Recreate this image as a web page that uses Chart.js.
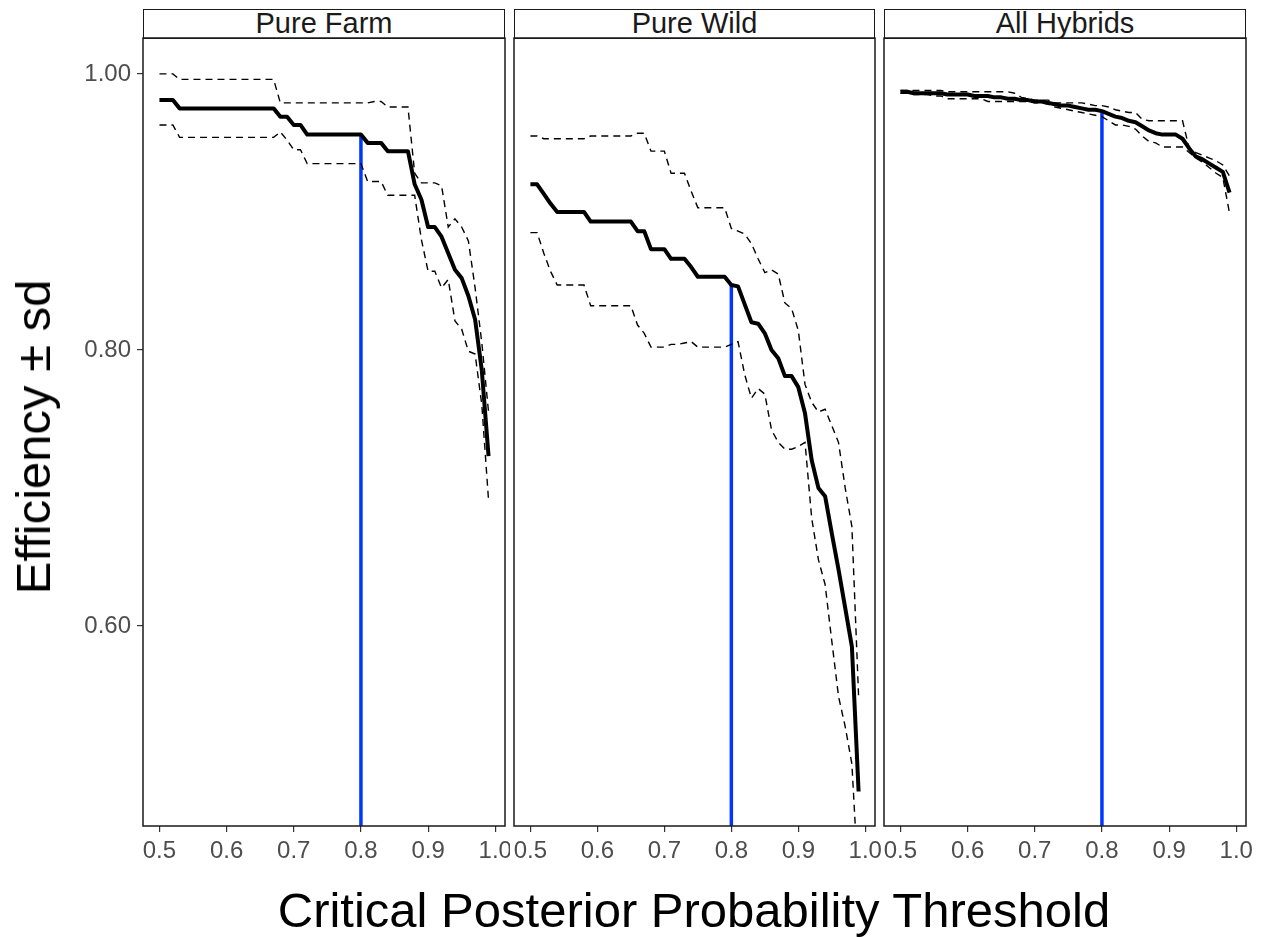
<!DOCTYPE html>
<html>
<head>
<meta charset="utf-8">
<script src="https://cdn.jsdelivr.net/npm/chart.js@4.4.1/dist/chart.umd.min.js"></script>
<style>
  body { margin: 0; background: #fff; font-family: "Liberation Sans", Arial, sans-serif; }
  #wrap { position: relative; width: 1265px; height: 937px; overflow: hidden; }
  canvas { position: absolute; }
  .strip { position: absolute; top: 9px; height: 30px; box-sizing: border-box; border: 1.5px solid #1a1a1a;
           text-align: center; font-size: 29px; line-height: 27px; color: #1a1a1a; background: #fff; }
  .title { position: absolute; white-space: nowrap; color: #000; font-size: 49px; }
</style>
</head>
<body>
<div id="wrap">
  <div class="strip" style="left:143px;width:362px">Pure Farm</div>
  <div class="strip" style="left:514px;width:361px">Pure Wild</div>
  <div class="strip" style="left:884px;width:362px">All Hybrids</div>
  <canvas id="farm" width="510" height="850" style="left:0;top:30px"></canvas>
  <canvas id="wild" width="385" height="850" style="left:509px;top:30px"></canvas>
  <canvas id="hybrid" width="386" height="850" style="left:879px;top:30px"></canvas>
  <div class="title" style="left:33px;top:437px;transform:translate(-50%,-50%) rotate(-90deg)">Efficiency ± sd</div>
  <div class="title" style="left:694px;top:910px;transform:translate(-50%,-50%)">Critical Posterior Probability Threshold</div>
</div>
<script>
// posterior probability thresholds (x)
var thresholds = [0.50, 0.51, 0.52, 0.53, 0.54, 0.55, 0.56, 0.57, 0.58, 0.59,
                  0.60, 0.61, 0.62, 0.63, 0.64, 0.65, 0.66, 0.67, 0.68, 0.69,
                  0.70, 0.71, 0.72, 0.73, 0.74, 0.75, 0.76, 0.77, 0.78, 0.79,
                  0.80, 0.81, 0.82, 0.83, 0.84, 0.85, 0.86, 0.87, 0.88, 0.89,
                  0.90, 0.91, 0.92, 0.93, 0.94, 0.95, 0.96, 0.97, 0.98, 0.99];
var cutoff = 0.80;
var xTicks = [0.5, 0.6, 0.7, 0.8, 0.9, 1.0];
var yTicks = [0.6, 0.8, 1.0];

// Pure Farm
var farmMean  = [0.981, 0.981, 0.981, 0.975, 0.975, 0.975, 0.975, 0.975, 0.975, 0.975,
                 0.975, 0.975, 0.975, 0.975, 0.975, 0.975, 0.975, 0.975, 0.969, 0.969,
                 0.963, 0.963, 0.956, 0.956, 0.956, 0.956, 0.956, 0.956, 0.956, 0.956,
                 0.956, 0.950, 0.950, 0.950, 0.944, 0.944, 0.944, 0.944, 0.920, 0.909,
                 0.889, 0.889, 0.882, 0.870, 0.858, 0.852, 0.839, 0.822, 0.785, 0.723];
var farmUpper = [1.000, 1.000, 1.000, 0.996, 0.996, 0.996, 0.996, 0.996, 0.996, 0.996,
                 0.996, 0.996, 0.996, 0.996, 0.996, 0.996, 0.996, 0.996, 0.979, 0.979,
                 0.979, 0.979, 0.979, 0.979, 0.979, 0.979, 0.979, 0.979, 0.979, 0.979,
                 0.979, 0.979, 0.980, 0.980, 0.976, 0.976, 0.976, 0.976, 0.928, 0.921,
                 0.921, 0.921, 0.919, 0.889, 0.895, 0.889, 0.879, 0.845, 0.805, 0.755];
var farmLower = [0.963, 0.963, 0.963, 0.954, 0.954, 0.954, 0.954, 0.954, 0.954, 0.954,
                 0.954, 0.954, 0.954, 0.954, 0.954, 0.954, 0.954, 0.954, 0.958, 0.952,
                 0.945, 0.945, 0.935, 0.935, 0.935, 0.935, 0.935, 0.935, 0.935, 0.935,
                 0.935, 0.922, 0.922, 0.922, 0.912, 0.912, 0.912, 0.912, 0.912, 0.880,
                 0.857, 0.857, 0.845, 0.851, 0.821, 0.815, 0.799, 0.797, 0.760, 0.691];

// Pure Wild
var wildMean  = [0.920, 0.920, 0.913, 0.906, 0.900, 0.900, 0.900, 0.900, 0.900, 0.893,
                 0.893, 0.893, 0.893, 0.893, 0.893, 0.893, 0.886, 0.886, 0.873, 0.873,
                 0.873, 0.866, 0.866, 0.866, 0.860, 0.853, 0.853, 0.853, 0.853, 0.853,
                 0.847, 0.846, 0.833, 0.820, 0.819, 0.812, 0.800, 0.794, 0.781, 0.781,
                 0.773, 0.754, 0.720, 0.700, 0.694, 0.667, 0.641, 0.613, 0.585, 0.480];
var wildUpper = [0.955, 0.955, 0.953, 0.953, 0.953, 0.953, 0.953, 0.953, 0.953, 0.955,
                 0.955, 0.955, 0.955, 0.955, 0.955, 0.955, 0.957, 0.957, 0.944, 0.944,
                 0.944, 0.928, 0.928, 0.928, 0.915, 0.903, 0.903, 0.903, 0.903, 0.903,
                 0.888, 0.886, 0.884, 0.877, 0.866, 0.856, 0.858, 0.855, 0.834, 0.830,
                 0.814, 0.775, 0.762, 0.755, 0.757, 0.745, 0.733, 0.700, 0.672, 0.549];
var wildLower = [0.885, 0.885, 0.870, 0.857, 0.847, 0.847, 0.847, 0.847, 0.847, 0.832,
                 0.832, 0.832, 0.832, 0.832, 0.832, 0.832, 0.818, 0.812, 0.802, 0.802,
                 0.802, 0.804, 0.804, 0.805, 0.806, 0.802, 0.802, 0.802, 0.802, 0.802,
                 0.804, 0.806, 0.782, 0.765, 0.772, 0.768, 0.742, 0.733, 0.728, 0.728,
                 0.730, 0.733, 0.678, 0.648, 0.630, 0.589, 0.549, 0.527, 0.500, 0.411];

// All Hybrids
var hybMean  = [0.987, 0.987, 0.986, 0.986, 0.986, 0.986, 0.986, 0.985, 0.985, 0.985,
                0.985, 0.984, 0.984, 0.984, 0.983, 0.983, 0.982, 0.982, 0.981, 0.981,
                0.980, 0.980, 0.979, 0.978, 0.977, 0.977, 0.976, 0.975, 0.974, 0.974,
                0.973, 0.971, 0.969, 0.968, 0.966, 0.965, 0.962, 0.959, 0.957, 0.956,
                0.956, 0.956, 0.953, 0.946, 0.940, 0.938, 0.935, 0.932, 0.929, 0.914];
var hybUpper = [0.988, 0.988, 0.988, 0.988, 0.988, 0.988, 0.988, 0.987, 0.987, 0.987,
                0.987, 0.987, 0.987, 0.987, 0.987, 0.987, 0.987, 0.986, 0.983, 0.982,
                0.981, 0.981, 0.981, 0.979, 0.979, 0.979, 0.979, 0.979, 0.978, 0.977,
                0.977, 0.976, 0.974, 0.973, 0.972, 0.972, 0.967, 0.966, 0.966, 0.966,
                0.966, 0.966, 0.966, 0.946, 0.943, 0.941, 0.939, 0.937, 0.934, 0.926];
var hybLower = [0.986, 0.986, 0.985, 0.985, 0.985, 0.984, 0.984, 0.982, 0.982, 0.982,
                0.982, 0.982, 0.982, 0.980, 0.980, 0.980, 0.980, 0.980, 0.980, 0.980,
                0.979, 0.979, 0.978, 0.976, 0.975, 0.974, 0.973, 0.972, 0.971, 0.970,
                0.969, 0.966, 0.963, 0.963, 0.962, 0.960, 0.955, 0.951, 0.950, 0.947,
                0.947, 0.947, 0.947, 0.943, 0.939, 0.936, 0.932, 0.928, 0.925, 0.899];

Chart.defaults.font.family = '"Liberation Sans", Arial, sans-serif';

// box round each panel
var panelBorder = {
    id: "panelBorder",
    afterDraw: function(chart) {
        var a = chart.chartArea, ctx = chart.ctx;
        ctx.save();
        ctx.strokeStyle = "#1a1a1a";
        ctx.lineWidth = 1.5;
        ctx.strokeRect(a.left, a.top, a.right - a.left, a.bottom - a.top);
        ctx.restore();
    }
};

function points(values) {
    return thresholds.map(function(t, i) { return {x: t, y: values[i]}; });
}

// padRight keeps room for the last tick label so it is not cut off
function FacetPanel(id, mean, upper, lower, showY, padRight) {
    var c = thresholds.indexOf(cutoff);
    var dashed = {borderColor: "#000", borderWidth: 1.4, borderDash: [7, 5], pointRadius: 0, tension: 0};
    new Chart(document.getElementById(id), {
        type: "line",
        data: {
            datasets: [
                {data: points(mean), borderColor: "#000", borderWidth: 4, pointRadius: 0, tension: 0,
                 borderJoinStyle: "round"},
                Object.assign({data: points(upper)}, dashed),
                Object.assign({data: points(lower)}, dashed),
                {data: [{x: cutoff, y: 0}, {x: cutoff, y: mean[c]}],
                 borderColor: "#0038ff", borderWidth: 3.5, pointRadius: 0}
            ]
        },
        options: {
            responsive: false,
            animation: false,
            events: [],
            layout: {padding: {top: 8, bottom: 0, left: showY ? 0 : 5, right: padRight}},
            plugins: {legend: {display: false}, tooltip: {enabled: false}},
            scales: {
                x: {
                    type: "linear",
                    min: 0.4755,
                    max: 1.0145,
                    afterBuildTicks: function(s) { s.ticks = xTicks.map(function(v) { return {value: v}; }); },
                    afterFit: function(s) { s.height = 54; s.paddingLeft = 0; s.paddingRight = 0; },
                    border: {display: false},
                    grid: {drawOnChartArea: false, drawTicks: true, tickLength: 6, color: "#333", lineWidth: 1.2},
                    ticks: {
                        color: "#4d4d4d",
                        font: {size: 24},
                        padding: 5,
                        maxRotation: 0,
                        autoSkip: false,
                        callback: function(v) { return v.toFixed(1); }
                    }
                },
                y: {
                    display: showY,
                    min: 0.455,
                    max: 1.026,
                    afterBuildTicks: function(s) { s.ticks = yTicks.map(function(v) { return {value: v}; }); },
                    afterFit: function(s) { s.width = showY ? 143 : 0; s.paddingTop = 0; s.paddingBottom = 0; },
                    border: {display: false},
                    grid: {drawOnChartArea: false, drawTicks: true, tickLength: 6, color: "#333", lineWidth: 1.2},
                    ticks: {
                        color: "#4d4d4d",
                        font: {size: 24},
                        padding: 6,
                        callback: function(v) { return v.toFixed(2); }
                    }
                }
            }
        },
        plugins: [panelBorder]
    });
}

FacetPanel("farm", farmMean, farmUpper, farmLower, true, 5);
FacetPanel("wild", wildMean, wildUpper, wildLower, false, 19);
FacetPanel("hybrid", hybMean, hybUpper, hybLower, false, 19);
</script>
</body>
</html>
